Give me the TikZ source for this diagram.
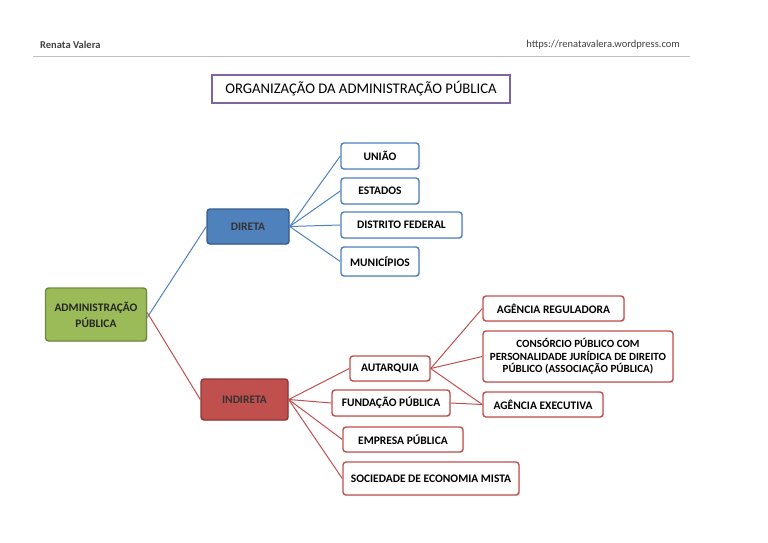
\documentclass[tikz,border=0pt]{standalone}
\usepackage{fontspec}
\setmainfont{Carlito}
\usetikzlibrary{shadows}
\definecolor{gfill}{HTML}{9BBB59}\definecolor{gdraw}{HTML}{71893F}
\definecolor{bfill}{HTML}{4F81BD}\definecolor{bdraw}{HTML}{385D8A}
\definecolor{rfill}{HTML}{C0504D}\definecolor{rdraw}{HTML}{8C3836}
\definecolor{purp}{HTML}{8064A2}
\begin{document}
\begin{tikzpicture}[x=1pt,y=-1pt,
  every node/.style={inner sep=0pt, align=center, font=\fontsize{11.5}{13}\selectfont\bfseries},
  basebox/.style={rounded corners=3pt, line width=1.4pt, drop shadow={opacity=0.2, shadow xshift=1pt, shadow yshift=-1.2pt}},
  bchild/.style={basebox, draw=bfill, fill=white},
  rchild/.style={basebox, draw=rfill, fill=white},
  bline/.style={draw=bfill, line width=1pt},
  rline/.style={draw=rfill, line width=1pt}]
\useasboundingbox (0,0) rectangle (768,543);
% header
\node[anchor=west, text=black!75, font=\fontsize{10.5}{12}\selectfont\bfseries] (author) at (40,45) {Renata Valera};
\node[anchor=east, text=black!75, font=\fontsize{10.5}{12}\selectfont] (url) at (680,45) {https://renatavalera.wordpress.com};
\draw[black!25, line width=0.8pt] (33,56) -- (690,56);
% title
\node[draw=purp, line width=1.5pt, minimum width=298pt, minimum height=28pt, font=\fontsize{14.7}{16}\selectfont] (title) at (361,89) {ORGANIZAÇÃO DA ADMINISTRAÇÃO PÚBLICA};
% main nodes
\node[basebox, draw=gdraw, fill=gfill, minimum width=101pt, minimum height=53pt, text=black!85] (admin) at (96,314.5) {ADMINISTRAÇÃO\\[3pt]PÚBLICA};
\node[basebox, draw=bdraw, fill=bfill, minimum width=82pt, minimum height=35pt, text=black!80] (direta) at (248,226.5) {DIRETA};
\node[basebox, draw=rdraw, fill=rfill, minimum width=87pt, minimum height=41pt, text=black!80] (indireta) at (244.5,399.5) {INDIRETA};
% direta children
\node[bchild, minimum width=78pt, minimum height=26pt] (uniao) at (380,156) {UNIÃO};
\node[bchild, minimum width=78pt, minimum height=26pt] (estados) at (380,191) {ESTADOS};
\node[bchild, minimum width=121pt, minimum height=26pt] (df) at (401.5,225) {DISTRITO FEDERAL};
\node[bchild, minimum width=78pt, minimum height=29pt] (mun) at (380,261.5) {MUNICÍPIOS};
% indireta children
\node[rchild, minimum width=80pt, minimum height=25pt] (autarquia) at (390,368.5) {AUTARQUIA};
\node[rchild, minimum width=118pt, minimum height=26pt] (fundacao) at (391,403) {FUNDAÇÃO PÚBLICA};
\node[rchild, minimum width=120pt, minimum height=25pt] (empresa) at (403,439.5) {EMPRESA PÚBLICA};
\node[rchild, minimum width=176pt, minimum height=33pt] (sociedade) at (431,478.5) {SOCIEDADE DE ECONOMIA MISTA};
% autarquia children
\node[rchild, minimum width=141pt, minimum height=25pt] (agreg) at (553.5,308.5) {AGÊNCIA REGULADORA};
\node[rchild, minimum width=190pt, minimum height=51pt, font=\fontsize{11}{12.5}\selectfont\bfseries] (consorcio) at (578,356.5) {CONSÓRCIO PÚBLICO COM\\PERSONALIDADE JURÍDICA DE DIREITO\\PÚBLICO (ASSOCIAÇÃO PÚBLICA)};
\node[rchild, minimum width=120pt, minimum height=25pt] (agexec) at (543,404.5) {AGÊNCIA EXECUTIVA};
% connectors
\draw[bline] ([yshift=-3pt]admin.east) -- (direta.west);
\draw[rline] ([yshift=2pt]admin.east) -- (indireta.west);
\foreach \n in {uniao,estados,df,mun} \draw[bline] (direta.east) -- (\n.west);
\foreach \n in {autarquia,fundacao,empresa,sociedade} \draw[rline] (indireta.east) -- (\n.west);
\foreach \n in {agreg,consorcio,agexec} \draw[rline] (autarquia.east) -- (\n.west);
\draw[rline] (fundacao.east) -- (agexec.west);
\end{tikzpicture}
\end{document}
